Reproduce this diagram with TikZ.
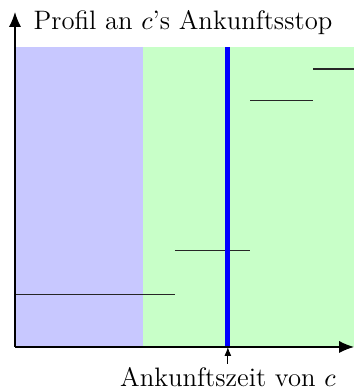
\documentclass[tikz,border=0pt]{standalone}
\definecolor{ProfilBlue}{RGB}{200, 200, 255}
\definecolor{ProfilGreen}{RGB}{200, 255, 200}
\usepackage{tikz}
\usetikzlibrary{arrows.meta, positioning, calc}
\usepackage{xcolor}
\usepackage{amsmath}

\begin{document}
\begin{tikzpicture}[
    axis/.style={-{Latex[length=2.2mm, width=1.8mm]}, line width=0.5pt},
    stufe/.style={line width=0.5pt, black!85},
    marke/.style={-{Latex[length=1.3mm, width=1mm]}, line width=0.4pt},
    beschriftung/.style={font=\fontsize{11.2}{13}\selectfont}
  ]
    \useasboundingbox (-0.221,-0.664) rectangle (5.0,5.118);
    % regions
    \fill[ProfilBlue] (0,0) rectangle (1.89,4.42);
    \fill[ProfilGreen] (1.89,0) rectangle (5.0,4.42);
    % profile steps
    \draw[stufe] (0,0.78) -- (2.36,0.78);
    \draw[stufe] (2.36,1.42) -- (3.47,1.42);
    \draw[stufe] (3.47,3.63) -- (4.40,3.63);
    \draw[stufe] (4.40,4.10) -- (5.0,4.10);
    % arrival time
    \draw[blue, line width=2pt] (3.14,0) -- (3.14,4.42);
    % axes
    \coordinate (O) at (0,0);
    \coordinate (xend) at (5.0,0);
    \coordinate (yend) at (0,4.94);
    \draw[axis] (O) -- (xend);
    \draw[axis] (O) -- (yend);
    \node[beschriftung, anchor=west] (profil) at (0.15,4.78) {Profil an $c$'s Ankunftsstop};
    \coordinate (ankunftpunkt) at (3.14,0);
    \node[beschriftung, anchor=base, inner sep=1.5pt] (ankunft) at (3.14,-0.585) {Ankunftszeit von $c$};
    \draw[marke] (ankunft) -- (ankunftpunkt);
  \end{tikzpicture}
\end{document}
